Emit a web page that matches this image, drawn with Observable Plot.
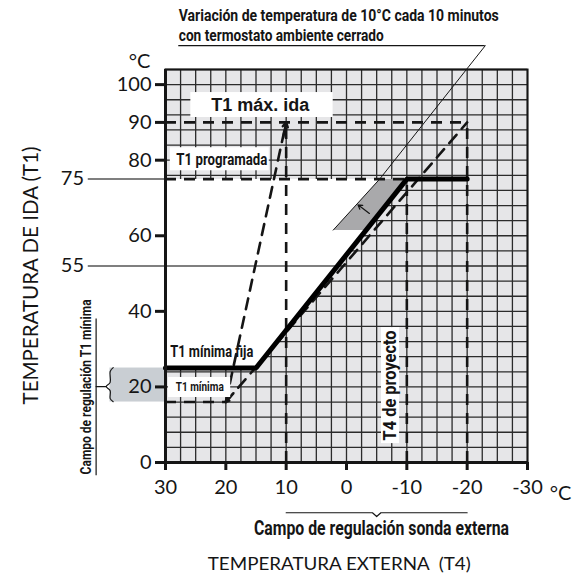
<!DOCTYPE html>
<html><head><meta charset="utf-8">
<script src="https://cdn.jsdelivr.net/npm/d3@7"></script>
<script src="https://cdn.jsdelivr.net/npm/@observablehq/plot@0.6"></script>
<style>body{margin:0;background:#fff}</style>
</head><body><div id="chart"></div>
<script>
// ---- data ----
const xTicks = [30, 20, 10, 0, -10, -20, -30];
const yTicks = [0, 20, 40, 60, 80, 90, 100];
const heatingCurve = [{t4: 30, t1: 25}, {t4: 15, t1: 25}, {t4: -10, t1: 75}, {t4: -20, t1: 75}];
const maxIdaLine = [{t4: 20, t1: 16}, {t4: 10, t1: 90}];
const parallelLine = [{t4: 20, t1: 16}, {t4: -20, t1: 90}];
const dashedH = [{t1: 90, from: 30, to: -20}, {t1: 75, from: 30, to: -10}, {t1: 16, from: 30, to: 20}];
const dashedV = [{t4: 10, top: 90}, {t4: -10, top: 75}, {t4: -20, top: 90}];
const refLevels = [{label: "75", t1: 75, to: 30}, {label: "55", t1: 52, to: 1.5}];
const rampBand = [{t4: 2.2, t1: 61.5}, {t4: -5.5, t1: 75}, {t4: -10, t1: 75}, {t4: -3.25, t1: 61.5}];
const rampLine = [{t4: 2.2, t1: 61.5}, {t4: -5.5, t1: 75}, {t4: -23, t1: 110.3}];
const titleLines = ["Variación de temperatura de 10°C cada 10 minutos", "con termostato ambiente cerrado"];

const COND = 'Roboto,"Liberation Sans",sans-serif';
const LIGHT = 'Lato,"Open Sans",sans-serif';
const INK = "#151515";
const dash = "11,8";

const gridX = d3.range(30, -30.01, -2.5);
const gridY = d3.range(0, 104.01, 4);
const whiteRegion = [{t4: 30, t1: 75}, {t4: -10, t1: 75}, {t4: 15, t1: 25}, {t4: 30, t1: 25}];

const chart = Plot.plot({
  width: 581, height: 578,
  marginLeft: 165, marginRight: 54, marginTop: 69, marginBottom: 116,
  x: {domain: [30, -30]},
  y: {domain: [0, 104]},
  style: {fontFamily: LIGHT, color: INK, background: "#fff", overflow: "visible"},
  marks: [
    Plot.rect([0], {x1: 30, x2: -30, y1: 0, y2: 104, fill: "#e6e6e8"}),
    Plot.ruleX(gridX, {y1: 0, y2: 104, stroke: "#2b2b2b", strokeWidth: 1.3}),
    Plot.ruleY(gridY, {x1: 30, x2: -30, stroke: "#2b2b2b", strokeWidth: 1.3}),
    Plot.line(whiteRegion, {x: "t4", y: "t1", fill: "#fff", stroke: null}),
    Plot.rect([0], {x1: 39.2, x2: 30, y1: 16, y2: 25, fill: "#c9ced3"}),
    Plot.line(rampBand, {x: "t4", y: "t1", fill: "#a9a9ab", stroke: null}),
    Plot.line(rampLine, {x: "t4", y: "t1", stroke: INK, strokeWidth: 1}),
    Plot.arrow([0], {x1: -3.8, y1: 65.9, x2: -1.9, y2: 68.2, stroke: INK, strokeWidth: 1.2, headLength: 7}),
    Plot.ruleY(refLevels, {y: "t1", x1: 42.8, x2: "to", stroke: "#555", strokeWidth: 1.5}),
    Plot.text(refLevels, {x: 43.5, y: "t1", text: "label", textAnchor: "end", fontSize: 20, fontFamily: LIGHT}),
    Plot.ruleY(dashedH, {y: "t1", x1: "from", x2: "to", stroke: INK, strokeWidth: 2.6, strokeDasharray: dash}),
    Plot.ruleX(dashedV, {x: "t4", y1: 0, y2: "top", stroke: INK, strokeWidth: 2.6, strokeDasharray: dash}),
    Plot.line(maxIdaLine, {x: "t4", y: "t1", stroke: INK, strokeWidth: 2.6, strokeDasharray: dash}),
    Plot.line(parallelLine, {x: "t4", y: "t1", stroke: INK, strokeWidth: 2.6, strokeDasharray: dash}),
    Plot.arrow([0], {x1: 18.7, y1: 18.4, x2: 20, y2: 16, stroke: INK, strokeWidth: 2, headLength: 7}),
    Plot.arrow([0], {x1: 10.5, y1: 86, x2: 10, y2: 90, stroke: INK, strokeWidth: 2.4, headLength: 7}),
    Plot.line(heatingCurve, {x: "t4", y: "t1", stroke: "#000", strokeWidth: 5, strokeLinejoin: "miter"}),
    Plot.frame({stroke: INK, strokeWidth: 2}),
    Plot.ruleX([30], {y1: 0, y2: 104, stroke: INK, strokeWidth: 3}),
    Plot.ruleY([0], {x1: 30, x2: -30, stroke: INK, strokeWidth: 3}),
    Plot.rect([{x1: 25.8, x2: 2.2, y1: 91.3, y2: 97.9}, {x1: 29.2, x2: 12.8, y1: 77.2, y2: 83.3},
               {x1: 29.5, x2: 19.2, y1: 17.2, y2: 22.5}, {x1: -5.8, x2: -8.8, y1: 5.0, y2: 35.7}],
      {x1: "x1", x2: "x2", y1: "y1", y2: "y2", fill: "#fff"}),
    Plot.text(["T1 máx. ida"], {x: 14.3, y: 94.6, fontSize: 18, fontWeight: "bold", fontFamily: '"Liberation Sans",Arial,sans-serif'}),
    Plot.text(["T1 programada"], {x: 28.2, y: 80.3, textAnchor: "start", fontSize: 17, fontWeight: "bold", fontFamily: COND}),
    Plot.text(["T1 mínima fija"], {x: 29.2, y: 29.3, textAnchor: "start", fontSize: 16, fontWeight: "bold", fontFamily: COND}),
    Plot.text(["T1 mínima"], {x: 28.3, y: 20.0, textAnchor: "start", fontSize: 13, fontWeight: "bold", fontFamily: COND}),
    Plot.text(["T4 de proyecto"], {x: -7.3, y: 20.4, rotate: -90, fontSize: 18, fontWeight: "bold", fontFamily: COND}),
    Plot.axisY({ticks: yTicks, tickSize: 10, tickPadding: 4, fontSize: 20, strokeWidth: 3, stroke: INK, label: null}),
    Plot.axisX({ticks: xTicks, tickSize: 8, tickPadding: 9, fontSize: 20, strokeWidth: 3, stroke: INK, tickFormat: d => String(d), label: null}),
    Plot.text(["°C"], {x: 32.5, y: 106.2, textAnchor: "end", fontSize: 20}),
    Plot.text(["°C"], {x: -33.7, y: -8.3, textAnchor: "start", fontSize: 20}),
    Plot.text(["TEMPERATURA DE IDA (T1)"], {x: 52.3, y: 49.5, rotate: -90, fontSize: 21}),
    Plot.text(["TEMPERATURA EXTERNA  (T4)"], {x: 1.2, y: -27.1, fontSize: 17}),
    Plot.line([{t4: 10, t1: -13.3}, {t4: -4.3, t1: -13.3}, {t4: -5, t1: -14.3}, {t4: -5.7, t1: -13.3}, {t4: -20, t1: -13.3}],
      {x: "t4", y: "t1", stroke: INK, strokeWidth: 1.2}),
    Plot.text(["Campo de regulación sonda externa"], {x: -5.8, y: -17.5, fontSize: 20, fontWeight: "bold", fontFamily: COND}),
    Plot.ruleX([41.5], {y1: -3.5, y2: 38, stroke: INK, strokeWidth: 1.2}),
    Plot.line([{t4: 41.5, t1: 20.1}, {t4: 39.83, t1: 20.1}], {x: "t4", y: "t1", stroke: INK, strokeWidth: 1.2}),
    Plot.line([{t4: 38.67, t1: 25.1}, {t4: 39.17, t1: 24.1}, {t4: 39.17, t1: 21.2}, {t4: 39.83, t1: 20.1},
               {t4: 39.17, t1: 19.0}, {t4: 39.17, t1: 16.9}, {t4: 38.67, t1: 16.1}],
      {x: "t4", y: "t1", stroke: INK, strokeWidth: 1.2, curve: "catmull-rom"}),
    Plot.text(["Campo de regulación T1 mínima"], {x: 43.2, y: 20.0, rotate: -90, fontSize: 15.5, fontWeight: "bold", fontFamily: COND}),
    Plot.text(titleLines, {x: 27.8, y: (d, i) => i === 0 ? 116.8 : 111.5, textAnchor: "start", lineAnchor: "bottom",
      fontSize: 16, fontWeight: "bold", fontFamily: COND}),
    Plot.ruleY([110.3], {x1: 27.8, x2: -23, stroke: INK, strokeWidth: 1.2})
  ]
});
// squeeze condensed labels to the widths seen in the reference
const textWidths = new Map([
  [titleLines[0], 320], [titleLines[1], 205],
  ["T1 máx. ida", 98], ["T1 programada", 91], ["T1 mínima fija", 83], ["T1 mínima", 48],
  ["T4 de proyecto", 110], ["Campo de regulación sonda externa", 255],
  ["Campo de regulación T1 mínima", 175], ["TEMPERATURA DE IDA (T1)", 258],
  ["TEMPERATURA EXTERNA  (T4)", 263]
]);
d3.select(chart).selectAll("text").each(function() {
  const w = textWidths.get(this.textContent);
  if (w) { this.setAttribute("textLength", w); this.setAttribute("lengthAdjust", "spacingAndGlyphs"); this.style.whiteSpace = "pre"; }
});
document.getElementById("chart").appendChild(chart);
</script>
</body></html>
